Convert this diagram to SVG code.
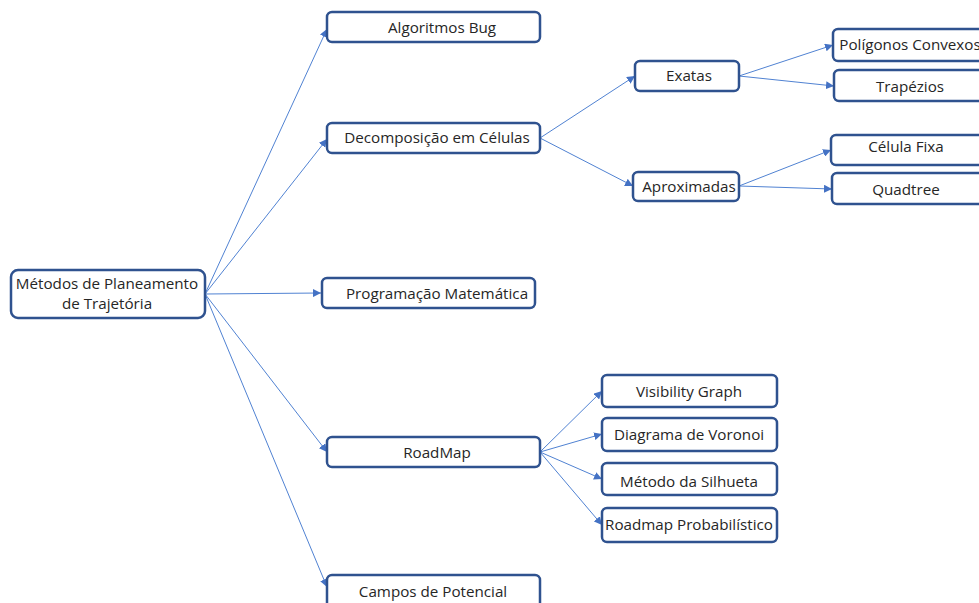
<svg xmlns="http://www.w3.org/2000/svg" width="979" height="603" viewBox="0 0 979 603">
  <defs>
    <marker id="arr" viewBox="0 0 10 10" refX="10" refY="5" markerWidth="8" markerHeight="8" markerUnits="userSpaceOnUse" orient="auto">
      <path d="M0,0 L10,5 L0,10 z" fill="#4472C4"/>
    </marker>
    <style>
      .box { fill: #ffffff; stroke: #2F528F; stroke-width: 2.5; }
      .lbl { font-family: "Open Sans", "Noto Sans", sans-serif; font-size: 15.2px; fill: #262626; text-anchor: middle; }
      .edge { stroke: #5082D2; stroke-width: 1; fill: none; marker-end: url(#arr); }
    </style>
  </defs>
  <rect width="979" height="603" fill="#ffffff"/>

  <g id="connectors">
    <line class="edge" x1="205" y1="294" x2="327" y2="29"/>
    <line class="edge" x1="205" y1="294" x2="327" y2="139"/>
    <line class="edge" x1="205" y1="294" x2="321" y2="293"/>
    <line class="edge" x1="205" y1="294" x2="327" y2="452"/>
    <line class="edge" x1="205" y1="294" x2="327" y2="587"/>
    <line class="edge" x1="540" y1="138" x2="635" y2="76"/>
    <line class="edge" x1="540" y1="138" x2="633" y2="186"/>
    <line class="edge" x1="739" y1="76" x2="833" y2="45"/>
    <line class="edge" x1="739" y1="76" x2="834" y2="86"/>
    <line class="edge" x1="739" y1="186" x2="831" y2="150"/>
    <line class="edge" x1="739" y1="186" x2="832" y2="189"/>
    <line class="edge" x1="540" y1="452" x2="602" y2="391"/>
    <line class="edge" x1="540" y1="452" x2="602" y2="434"/>
    <line class="edge" x1="540" y1="452" x2="602" y2="479"/>
    <line class="edge" x1="540" y1="452" x2="602" y2="525"/>
  </g>

  <g id="root">
    <rect class="box" x="11" y="270" width="194" height="48" rx="7"/>
    <text class="lbl" x="107" y="289">Métodos de Planeamento</text>
    <text class="lbl" x="107" y="309">de Trajetória</text>
  </g>
  <g id="algoritmos-bug">
    <rect class="box" x="327" y="12" width="213" height="30" rx="5"/>
    <text class="lbl" x="442" y="33">Algoritmos Bug</text>
  </g>
  <g id="decomposicao">
    <rect class="box" x="327" y="123" width="213" height="30" rx="5"/>
    <text class="lbl" x="437" y="143">Decomposição em Células</text>
  </g>
  <g id="programacao">
    <rect class="box" x="322" y="278" width="213" height="30" rx="5"/>
    <text class="lbl" x="437" y="299">Programação Matemática</text>
  </g>
  <g id="roadmap">
    <rect class="box" x="327" y="437" width="213" height="30" rx="5"/>
    <text class="lbl" x="437" y="458">RoadMap</text>
  </g>
  <g id="campos">
    <rect class="box" x="327" y="575" width="213" height="40" rx="5"/>
    <text class="lbl" x="433" y="597">Campos de Potencial</text>
  </g>
  <g id="exatas">
    <rect class="box" x="635" y="61" width="104" height="30" rx="5"/>
    <text class="lbl" x="689" y="81">Exatas</text>
  </g>
  <g id="aproximadas">
    <rect class="box" x="633" y="172" width="106" height="29" rx="5"/>
    <text class="lbl" x="689" y="192">Aproximadas</text>
  </g>
  <g id="poligonos">
    <rect class="box" x="833" y="29" width="160" height="32" rx="5"/>
    <text class="lbl" x="910" y="50">Polígonos Convexos</text>
  </g>
  <g id="trapezios">
    <rect class="box" x="834" y="70" width="160" height="31" rx="5"/>
    <text class="lbl" x="910" y="92">Trapézios</text>
  </g>
  <g id="celula-fixa">
    <rect class="box" x="831" y="135" width="160" height="30" rx="5"/>
    <text class="lbl" x="906" y="152">Célula Fixa</text>
  </g>
  <g id="quadtree">
    <rect class="box" x="832" y="173" width="160" height="31" rx="5"/>
    <text class="lbl" x="906" y="195">Quadtree</text>
  </g>
  <g id="visibility">
    <rect class="box" x="602" y="375" width="175" height="32" rx="5"/>
    <text class="lbl" x="689" y="397">Visibility Graph</text>
  </g>
  <g id="voronoi">
    <rect class="box" x="602" y="418" width="175" height="33" rx="5"/>
    <text class="lbl" x="689" y="440">Diagrama de Voronoi</text>
  </g>
  <g id="silhueta">
    <rect class="box" x="602" y="463" width="175" height="32" rx="5"/>
    <text class="lbl" x="689" y="487">Método da Silhueta</text>
  </g>
  <g id="probabilistico">
    <rect class="box" x="602" y="508" width="175" height="34" rx="5"/>
    <text class="lbl" x="689" y="530">Roadmap Probabilístico</text>
  </g>
</svg>
